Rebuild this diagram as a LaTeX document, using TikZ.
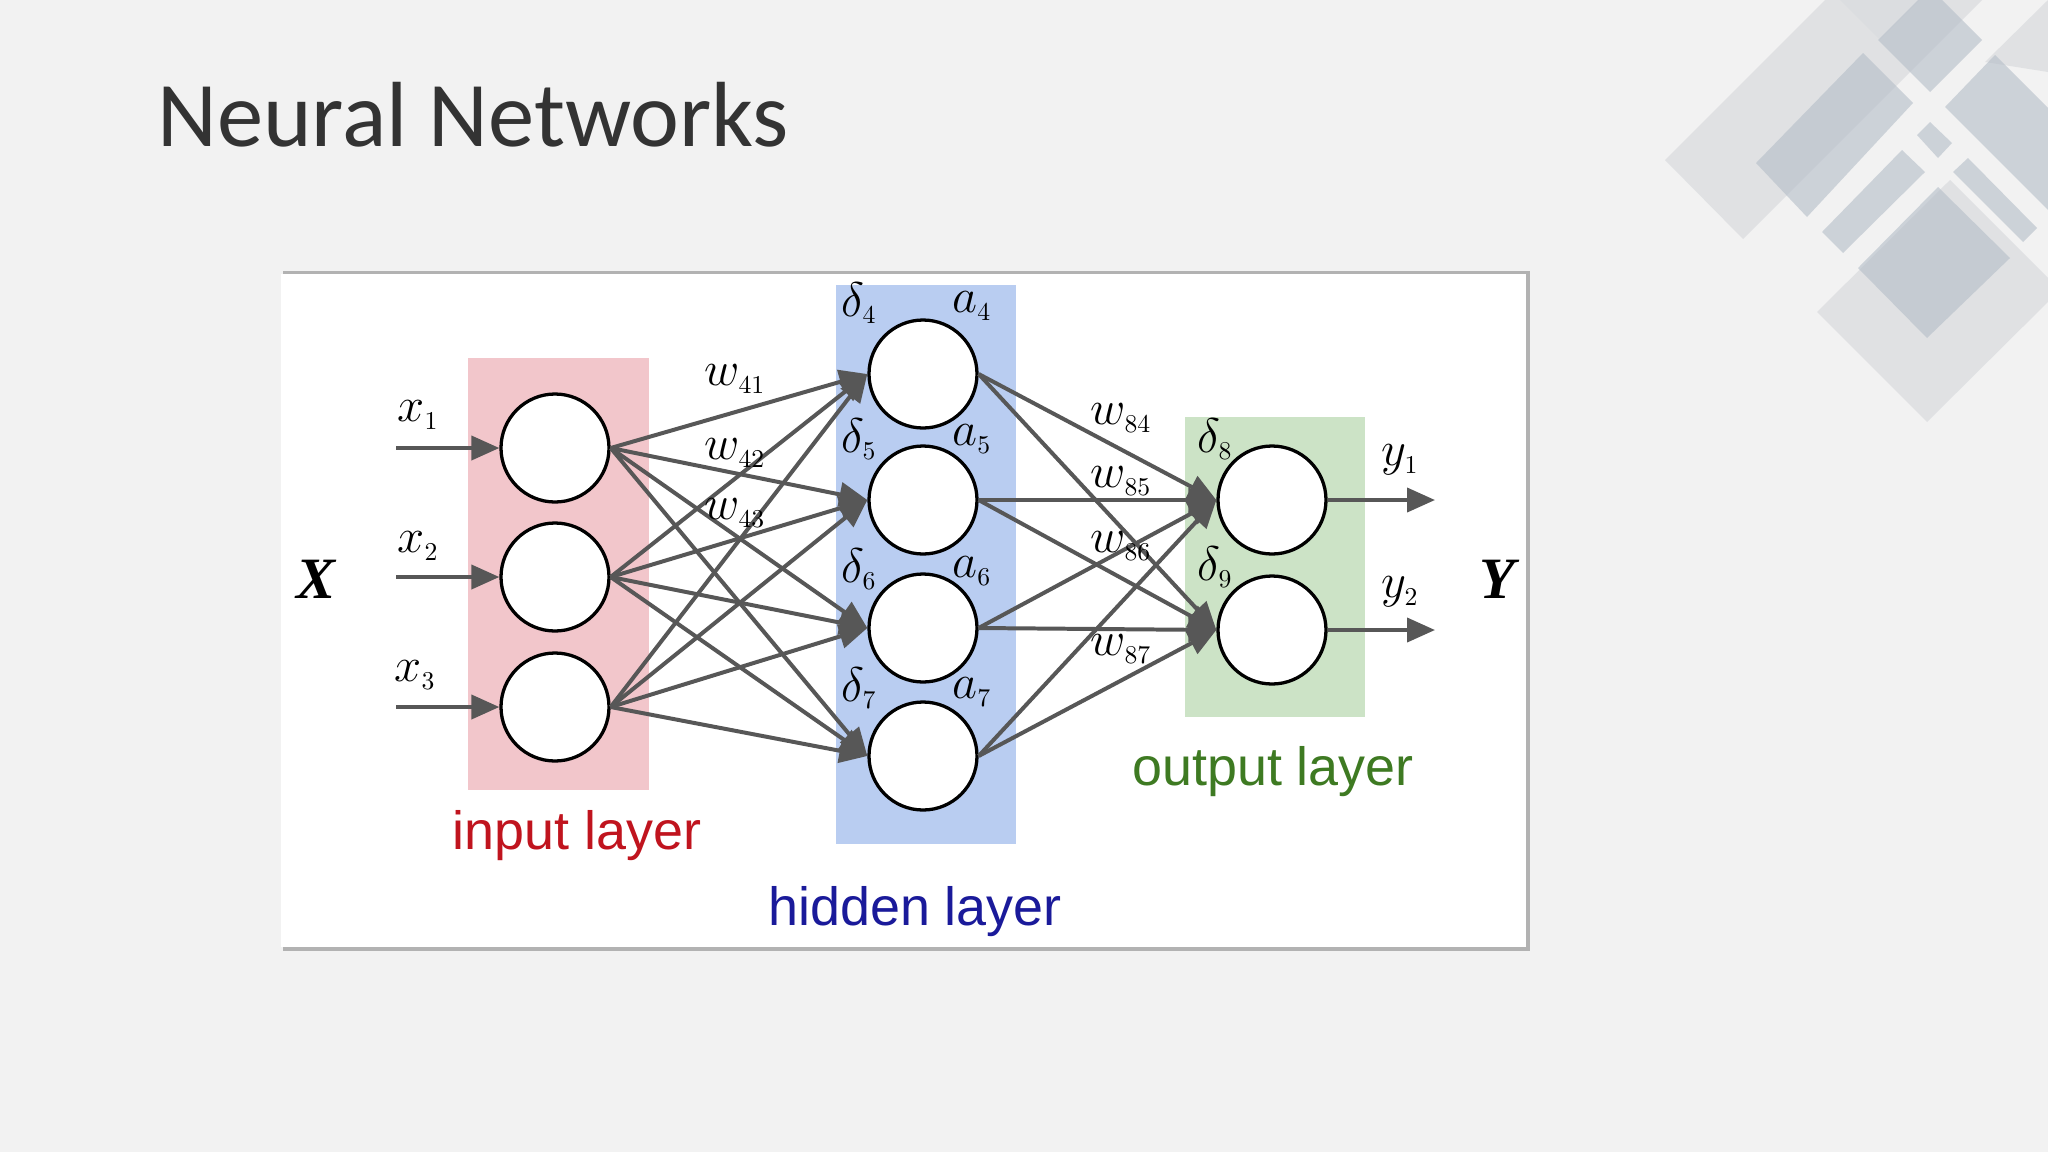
\documentclass[tikz,border=0pt]{standalone}
\usepackage{fontspec}
\setmainfont{Liberation Serif}
\newfontfamily\carl{Carlito}
\newfontfamily\arl{Liberation Sans}
\usetikzlibrary{arrows.meta,shadows}
\definecolor{bg}{HTML}{F2F2F2}
\definecolor{pinkL}{HTML}{F2C6CB}
\definecolor{blueL}{HTML}{B9CDF1}
\definecolor{greenL}{HTML}{CCE3C6}
\definecolor{deco1}{HTML}{DADCDF}
\definecolor{deco2}{HTML}{B4BDC8}
\definecolor{edge}{HTML}{575757}
\definecolor{redT}{HTML}{C0141E}
\definecolor{blueT}{HTML}{1A1A9A}
\definecolor{greenT}{HTML}{3E7A22}
\tikzset{
 neuron/.style={circle,draw=black,line width=1.4pt,fill=white,minimum size=1.62cm,inner sep=0},
 conn/.style={draw=edge,line width=1.7pt,-{Triangle[length=0.42cm,width=0.36cm]}},
 lab/.style={font=\fontsize{21}{22}\selectfont\itshape,inner sep=0},
 layer/.style={font=\arl\fontsize{23}{26}\selectfont,inner sep=0},
 light/.style={fill=deco1,fill opacity=0.75},
 dark/.style={fill=deco2,fill opacity=0.6}
}
\begin{document}
\begin{tikzpicture}[x=0.015cm,y=-0.015cm]
\fill[bg] (0,0) rectangle (2048,1152);
\useasboundingbox (0,0) rectangle (2048,1152);
% decoration
\begin{scope}
\clip (0,0) rectangle (2048,1152);
\fill[light] (1665,160) -- (1743,239) -- (1993,-11) -- (1915,-90) -- cycle;
\fill[light] (1817,312) -- (1927,422) -- (2060,290) -- (1950,180) -- cycle;
\fill[light] (1985,62) -- (2048,0) -- (2120,0) -- (2060,60) -- (2048,72) -- cycle;
\fill[light] (1840,0) -- (1880,40) -- (1920,0) -- cycle;
\fill[dark] (1756,163) -- (1807,217) -- (1913,103) -- (1863,53) -- cycle;
\fill[dark] (1878,40) -- (1930,92) -- (1982,40) -- (1930,-12) -- cycle;
\fill[dark] (1945,107) -- (1995,55) -- (2100,160) -- (2050,212) -- cycle;
\fill[dark] (1917,135) -- (1930,122) -- (1952,143) -- (1938,158) -- cycle;
\fill[dark] (1822,232) -- (1843,253) -- (1925,172) -- (1902,150) -- cycle;
\fill[dark] (1953,172) -- (1968,158) -- (2037,228) -- (2023,242) -- cycle;
\fill[dark] (1858,268) -- (1938,187) -- (2010,258) -- (1927,338) -- cycle;
\end{scope}
% title
\node[anchor=west,inner sep=0,font=\carl\fontsize{39.5}{46}\selectfont,text=black!80] (title) at (157,115) {Neural Networks};
% panel
\fill[black!30] (283,271) rectangle (1530,951);
\fill[white] (281,274) rectangle (1526,947);
% layer boxes
\fill[pinkL] (468,358) rectangle (649,790);
\fill[blueL] (836,285) rectangle (1016,844);
\fill[greenL] (1185,417) rectangle (1365,717);
% neurons
\node[neuron] (i1) at (555,448) {};
\node[neuron] (i2) at (555,577) {};
\node[neuron] (i3) at (555,707) {};
\node[neuron] (h1) at (923,374) {};
\node[neuron] (h2) at (923,500) {};
\node[neuron] (h3) at (923,628) {};
\node[neuron] (h4) at (923,756) {};
\node[neuron] (o1) at (1272,500) {};
\node[neuron] (o2) at (1272,630) {};
% connections
\foreach \i in {1,2,3}{\foreach \j in {1,2,3,4}{\draw[conn] (i\i.east) -- (h\j.west);}}
\foreach \j in {1,2,3,4}{\foreach \k in {1,2}{\draw[conn] (h\j.east) -- (o\k.west);}}
% inputs / outputs
\coordinate (s1) at (396,448); \coordinate (s2) at (396,577); \coordinate (s3) at (396,707);
\coordinate (e1) at (1435,500); \coordinate (e2) at (1435,630);
\foreach \i in {1,2,3}{\draw[conn] (s\i) -- (i\i.west);}
\draw[conn] (o1.east) -- (e1);
\draw[conn] (o2.east) -- (e2);
% labels
\node[lab] (lx1) at (418,415) {$x_{\scriptscriptstyle 1}$};
\node[lab] (lx2) at (418,546) {$x_{\scriptscriptstyle 2}$};
\node[lab] (lx3) at (415,675) {$x_{\scriptscriptstyle 3}$};
\node[lab] (ly1) at (1400,460) {$y_{\scriptscriptstyle 1}$};
\node[lab] (ly2) at (1400,592) {$y_{\scriptscriptstyle 2}$};
\node[font=\fontsize{25}{28}\selectfont\bfseries\itshape,inner sep=0] (X) at (316,579) {X};
\node[font=\fontsize{25}{28}\selectfont\bfseries\itshape,inner sep=0] (Y) at (1497,579) {Y};
\node[lab] (w41) at (735,379) {$w_{\scriptscriptstyle 41}$};
\node[lab] (w42) at (735,453) {$w_{\scriptscriptstyle 42}$};
\node[lab] (w43) at (735,513) {$w_{\scriptscriptstyle 43}$};
\node[lab] (w84) at (1121,418) {$w_{\scriptscriptstyle 84}$};
\node[lab] (w85) at (1121,481) {$w_{\scriptscriptstyle 85}$};
\node[lab] (w86) at (1121,546) {$w_{\scriptscriptstyle 86}$};
\node[lab] (w87) at (1121,649) {$w_{\scriptscriptstyle 87}$};
\node[lab] (d4) at (859,303) {$\delta_{\scriptscriptstyle 4}$};
\node[lab] (a4) at (972,306) {$a_{\scriptscriptstyle 4}$};
\node[lab] (d5) at (859,439) {$\delta_{\scriptscriptstyle 5}$};
\node[lab] (a5) at (972,439) {$a_{\scriptscriptstyle 5}$};
\node[lab] (d6) at (859,569) {$\delta_{\scriptscriptstyle 6}$};
\node[lab] (a6) at (972,571) {$a_{\scriptscriptstyle 6}$};
\node[lab] (d7) at (859,688) {$\delta_{\scriptscriptstyle 7}$};
\node[lab] (a7) at (972,692) {$a_{\scriptscriptstyle 7}$};
\node[lab] (d8) at (1215,439) {$\delta_{\scriptscriptstyle 8}$};
\node[lab] (d9) at (1215,567) {$\delta_{\scriptscriptstyle 9}$};
\node[layer,text=redT] (tin) at (577,836) {input layer};
\node[layer,text=blueT] (thid) at (915,912) {hidden layer};
\node[layer,text=greenT] (tout) at (1273,772) {output layer};
\end{tikzpicture}
\end{document}
